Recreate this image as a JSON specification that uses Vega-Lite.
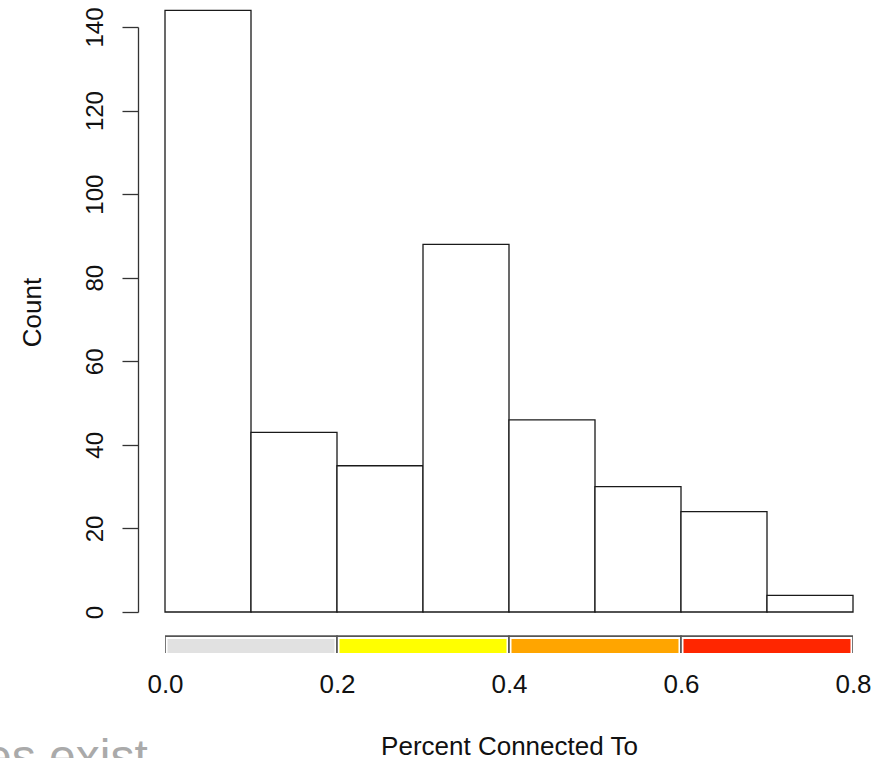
{
  "$schema": "https://vega.github.io/schema/vega-lite/v6.json",
  "autosize": {"type": "none"},
  "padding": {"left": 165, "top": 27, "right": 33, "bottom": 105},
  "background": "white",
  "width": 688,
  "height": 626,
  "config": {
    "view": {"stroke": null},
    "font": "Liberation Sans",
    "axis": {"labelFont": "Liberation Sans", "titleFont": "Liberation Sans", "labelColor": "#111", "titleColor": "#111", "titleFontWeight": "normal", "grid": false}
  },
  "datasets": {
    "bins": [
      {"bin_start": 0.0, "bin_end": 0.1, "count": 144},
      {"bin_start": 0.1, "bin_end": 0.2, "count": 43},
      {"bin_start": 0.2, "bin_end": 0.3, "count": 35},
      {"bin_start": 0.3, "bin_end": 0.4, "count": 88},
      {"bin_start": 0.4, "bin_end": 0.5, "count": 46},
      {"bin_start": 0.5, "bin_end": 0.6, "count": 30},
      {"bin_start": 0.6, "bin_end": 0.7, "count": 24},
      {"bin_start": 0.7, "bin_end": 0.8, "count": 4}
    ],
    "bands": [
      {"start": 0.0, "end": 0.2, "level": "low"},
      {"start": 0.2, "end": 0.4, "level": "medium"},
      {"start": 0.4, "end": 0.6, "level": "high"},
      {"start": 0.6, "end": 0.8, "level": "very high"}
    ],
    "notes": [
      {"note": "es exist", "px": -0.02, "py": -38.5}
    ]
  },
  "resolve": {"scale": {"y": "independent"}},
  "layer": [
    {
      "layer": [
        {
          "data": {"name": "bins"},
          "mark": {"type": "rect", "fill": "white", "stroke": "#1a1a1a", "strokeWidth": 1.3, "clip": false},
          "encoding": {
            "x": {"field": "bin_start", "type": "quantitative", "scale": {"domain": [0, 0.8], "nice": false, "zero": false},
              "axis": {
                "values": [0, 0.2, 0.4, 0.6, 0.8],
                "format": ".1f",
                "ticks": false,
                "domain": false,
                "labelFlush": false,
                "labelFontSize": 26,
                "labelBaseline": "alphabetic",
                "labelPadding": 39,
                "title": "Percent Connected To",
                "titleFontSize": 26,
                "titleBaseline": "alphabetic",
                "titleY": 101
              }
            },
            "x2": {"field": "bin_end"},
            "y": {"field": "count", "type": "quantitative", "scale": {"domain": [0, 140], "nice": false, "range": [585, 0]},
              "axis": {
                "values": [0, 20, 40, 60, 80, 100, 120, 140],
                "offset": 27,
                "tickSize": 16,
                "tickColor": "#333",
                "tickWidth": 1.3,
                "domainColor": "#333",
                "domainWidth": 1.3,
                "labelAngle": -90,
                "labelAlign": "center",
                "labelBaseline": "alphabetic",
                "labelPadding": 20,
                "labelFontSize": 24,
                "title": "Count",
                "titleFontSize": 26,
                "titleAngle": -90,
                "titleAlign": "center",
                "titleBaseline": "alphabetic",
                "titleX": -98,
                "titleY": 285
              }
            },
            "y2": {"datum": 0}
          }
        },
        {
          "data": {"name": "notes"},
          "mark": {"type": "text", "align": "right", "baseline": "alphabetic", "fontSize": 48, "color": "#aaaaaa", "clip": false},
          "encoding": {
            "x": {"field": "px", "type": "quantitative"},
            "y": {"field": "py", "type": "quantitative"},
            "text": {"field": "note"}
          }
        }
      ]
    },
    {
      "data": {"name": "bands"},
      "layer": [
        {
          "mark": {"type": "rect", "fill": "white", "stroke": "#555", "strokeWidth": 1.6, "clip": true},
          "encoding": {
            "x": {"field": "start", "type": "quantitative"},
            "x2": {"field": "end"},
            "y": {"datum": 0.94, "type": "quantitative", "scale": {"domain": [0, 1], "nice": false, "range": [626, 608]}, "axis": null},
            "y2": {"datum": -0.5}
          }
        },
        {
          "mark": {"type": "rect", "strokeWidth": 0, "clip": true, "xOffset": 2.5, "x2Offset": -2.5, "yOffset": 3},
          "encoding": {
            "x": {"field": "start", "type": "quantitative"},
            "x2": {"field": "end"},
            "y": {"datum": 0.94, "type": "quantitative"},
            "y2": {"datum": -0.5},
            "color": {"field": "level", "type": "nominal", "legend": null,
              "scale": {"domain": ["low", "medium", "high", "very high"], "range": ["#e1e1e1", "#ffff00", "#ffa500", "#ff2600"]}}
          }
        }
      ]
    }
  ]
}
